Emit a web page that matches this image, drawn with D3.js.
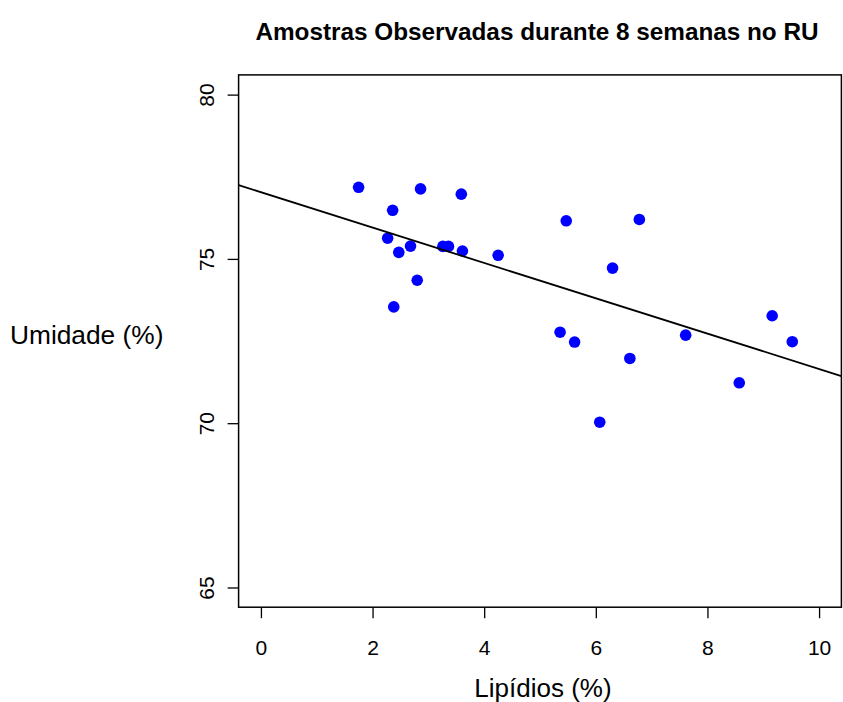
<!DOCTYPE html>
<html>
<head>
<meta charset="utf-8">
<script src="https://cdn.jsdelivr.net/npm/d3@7"></script>
<style>
  html, body { margin: 0; padding: 0; background: #fff; }
  svg { display: block; }
  text { font-family: "Liberation Sans", Arial, sans-serif; fill: #000; }
</style>
</head>
<body>
<script>
// ---- data ----
const lipidios = [1.75, 2.86, 3.59, 2.36, 2.27, 2.68, 2.47, 3.26, 3.36, 3.61, 4.25, 2.80, 2.38,
                  5.47, 6.78, 6.30,
                  5.36, 5.62, 6.61, 7.61, 9.16, 9.52, 8.57, 6.07];
const umidade  = [77.18, 77.13, 76.97, 76.48, 75.63, 75.39, 75.20, 75.38, 75.38, 75.24, 75.11, 74.35, 73.54,
                  76.16, 76.20, 74.72,
                  72.77, 72.47, 71.97, 72.68, 73.27, 72.48, 71.23, 70.03];
const xTicks = [0, 2, 4, 6, 8, 10];
const yTicks = [65, 70, 75, 80];
const fitIntercept = 77.03;
const fitSlope = -0.538;
const titleText = "Amostras Observadas durante 8 semanas no RU";
const xLabel = "Lipídios (%)";
const yLabel = "Umidade (%)";

// ---- layout ----
const W = 843, H = 702;
const pL = 238.6, pR = 841.4, pT = 74.9, pB = 607.2;

const svg = d3.select("body").append("svg").attr("width", W).attr("height", H);

const x = d3.scaleLinear().domain([-0.4, 10.4]).range([pL, pR]);
const y = d3.scaleLinear().domain([64.4, 80.6]).range([pB, pT]);

// clip
svg.append("clipPath").attr("id", "clip")
  .append("rect").attr("x", pL).attr("y", pT).attr("width", pR - pL).attr("height", pB - pT);

// points
svg.append("g").attr("clip-path", "url(#clip)")
  .selectAll("circle").data(lipidios.map((v, i) => [v, umidade[i]]))
  .join("circle")
  .attr("cx", d => x(d[0])).attr("cy", d => y(d[1]))
  .attr("r", 5.8).attr("fill", "#0000ff");

// regression line
const xd = x.domain();
svg.append("line").attr("clip-path", "url(#clip)")
  .attr("x1", x(xd[0])).attr("y1", y(fitIntercept + fitSlope * xd[0]))
  .attr("x2", x(xd[1])).attr("y2", y(fitIntercept + fitSlope * xd[1]))
  .attr("stroke", "#000").attr("stroke-width", 1.8);

// box
svg.append("rect").attr("x", pL).attr("y", pT).attr("width", pR - pL).attr("height", pB - pT)
  .attr("fill", "none").attr("stroke", "#000").attr("stroke-width", 1.5);

// x axis
const gx = svg.append("g").attr("transform", `translate(0,${pB})`)
  .call(d3.axisBottom(x).tickValues(xTicks).tickSize(11).tickFormat(d3.format("d")));
gx.select(".domain").remove();
gx.selectAll(".tick line").attr("stroke", "#000").attr("stroke-width", 1.3);
gx.selectAll(".tick text").attr("y", 48).attr("dy", 0).attr("font-size", 21)
  .attr("font-family", "Liberation Sans, Arial, sans-serif").attr("fill", "#000");

// y axis
const gy = svg.append("g").attr("transform", `translate(${pL},0)`)
  .call(d3.axisLeft(y).tickValues(yTicks).tickSize(11).tickFormat(d3.format("d")));
gy.select(".domain").remove();
gy.selectAll(".tick line").attr("stroke", "#000").attr("stroke-width", 1.3);
gy.selectAll(".tick text").attr("x", 0).attr("dy", 0).attr("text-anchor", "middle")
  .attr("transform", "translate(-24.6,0) rotate(-90)")
  .attr("font-size", 21).attr("font-family", "Liberation Sans, Arial, sans-serif").attr("fill", "#000");

// title
svg.append("text").attr("x", (pL + pR) / 2 - 3).attr("y", 40).attr("text-anchor", "middle")
  .attr("font-size", 24.3).attr("font-weight", "bold").text(titleText);

// x label
svg.append("text").attr("x", (pL + pR) / 2 + 3).attr("y", 697).attr("text-anchor", "middle")
  .attr("font-size", 26).text(xLabel);

// y label (horizontal)
svg.append("text").attr("x", 10).attr("y", 344).attr("text-anchor", "start")
  .attr("font-size", 26.3).text(yLabel);
</script>
</body>
</html>
